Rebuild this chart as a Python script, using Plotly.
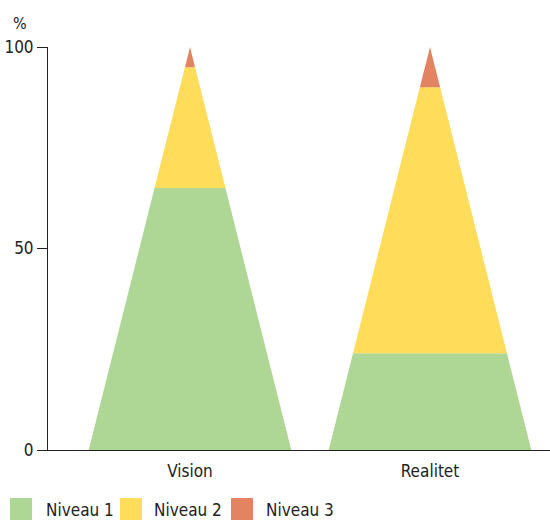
import plotly.graph_objects as go

categories = ["Vision", "Realitet"]
levels = ["Niveau 1", "Niveau 2", "Niveau 3"]
values = {
    "Niveau 1": [65, 24],
    "Niveau 2": [30, 66],
    "Niveau 3": [5, 10],
}
colors = {"Niveau 1": "#AED695", "Niveau 2": "#FFDC5A", "Niveau 3": "#E28462"}
y_ticks = [0, 50, 100]

FONT = "Liberation Sans Narrow, DejaVu Sans Condensed, Roboto, sans-serif"
W, H = 550, 520
ML, MR, MT, MB = 48, 0, 47, 70
PW, PH = W - ML - MR, H - MT - MB
half = 0.422

def px(x):
    return (x - ML) / PW

def py(y):
    return (H - MB - y) / PH

fig = go.Figure()
for ci, cat in enumerate(categories):
    total = sum(values[l][ci] for l in levels)
    lo = 0
    for l in levels:
        hi = lo + values[l][ci]
        w_lo = half * (1 - lo / total)
        w_hi = half * (1 - hi / total)
        xs = [ci - w_lo, ci + w_lo, ci + w_hi, ci - w_hi, ci - w_lo]
        ys = [lo, lo, hi, hi, lo]
        fig.add_trace(go.Scatter(x=xs, y=ys, fill="toself", fillcolor=colors[l],
                                 mode="lines", line=dict(width=0, color=colors[l]),
                                 name=l, showlegend=False, hoverinfo="skip"))
        lo = hi

# custom legend
shapes = []
annotations = []
leg_sq = [10, 120, 231]
leg_tx = [44, 152, 264]
for l, sx, tx in zip(levels, leg_sq, leg_tx):
    shapes.append(dict(type="rect", xref="paper", yref="paper",
                       x0=px(sx), x1=px(sx + 22), y0=py(520), y1=py(498),
                       fillcolor=colors[l], line=dict(width=0)))
    annotations.append(dict(text=l, xref="paper", yref="paper", x=px(tx), y=py(510),
                            xanchor="left", yanchor="middle", showarrow=False,
                            font=dict(size=17, color="#222", family=FONT)))
annotations.append(dict(text="%", xref="paper", yref="paper", x=px(11), y=py(23),
                        xanchor="left", yanchor="middle", showarrow=False,
                        font=dict(size=16, color="#222", family=FONT)))

fig.update_layout(
    width=W, height=H, margin=dict(l=ML, r=MR, t=MT, b=MB),
    paper_bgcolor="white", plot_bgcolor="white",
    font=dict(family=FONT, size=17, color="#222"),
    showlegend=False, shapes=shapes, annotations=annotations,
    xaxis=dict(range=[-142 / 240, 1 + 120 / 240], tickvals=list(range(len(categories))),
               ticktext=categories, showgrid=False, zeroline=False, showline=True,
               linecolor="#222", linewidth=1, ticks="", fixedrange=True,
               ticklabelstandoff=6),
    yaxis=dict(range=[0, 100], tickvals=y_ticks, showgrid=False, zeroline=False,
               showline=True, linecolor="#222", linewidth=1, ticks="outside",
               ticklen=10, tickcolor="#222", fixedrange=True),
)
fig.write_html("out.html")
